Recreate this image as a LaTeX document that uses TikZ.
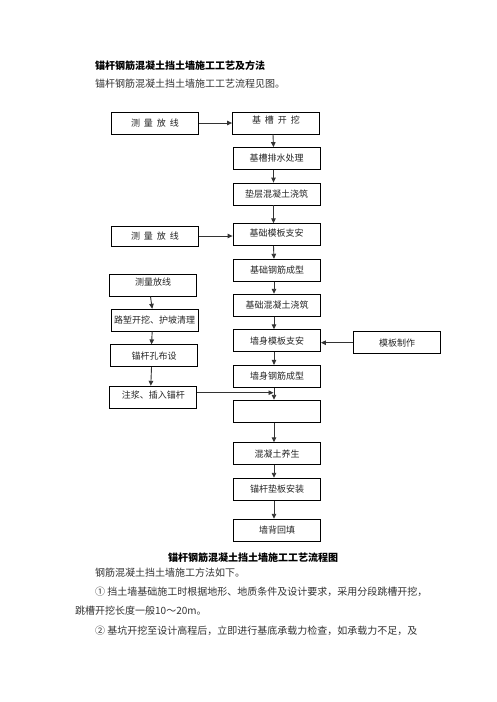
\documentclass[tikz,border=0pt]{standalone}
\usepackage{fontspec}
\setmainfont{Noto Sans CJK SC}
\usetikzlibrary{arrows.meta}

\tikzset{
  proc/.style={draw,line width=0.8pt,minimum width=87pt,minimum height=22pt,inner sep=0pt,
    text=black!85,font=\fontsize{9pt}{10pt}\selectfont},
  lift/.style={text depth=#1},
  flow/.style={-{Triangle[length=5pt,width=4.5pt]},line width=0.9pt,draw=black!80},
  body/.style={anchor=west,inner sep=0pt,text=black!80,font=\fontsize{10pt}{12pt}\selectfont}
}

\begin{document}
\begin{tikzpicture}[x=1pt,y=-1pt]
  \useasboundingbox (0,0) rectangle (496,702);
  \fill[white] (0,0) rectangle (496,702);

  % heading and intro
  \node[body,text=black,font=\fontsize{10pt}{12pt}\selectfont\bfseries] (head) at (95,66) {锚杆钢筋混凝土挡土墙施工工艺及方法};
  \node[body] (intro) at (95,84) {锚杆钢筋混凝土挡土墙施工工艺流程见图。};

  % main column
  \node[proc,lift=7pt] (k1) at (276,123) {基\hspace{4pt}槽\hspace{4pt}开\hspace{4pt}挖};
  \node[proc] (k2) at (276.5,158.5) {基槽排水处理};
  \node[proc] (k3) at (276.5,194) {垫层混凝土浇筑};
  \node[proc,lift=4pt] (k4) at (276.5,234.7) {基础模板支安};
  \node[proc] (k5) at (277,270.2) {基础钢筋成型};
  \node[proc] (k6) at (277,305.2) {基础混凝土浇筑};
  \node[proc] (k7) at (277,340.7) {墙身模板支安};
  \node[proc] (k8) at (277,376.3) {墙身钢筋成型};
  \node[proc] (k9) at (277,411.2) {};
  \node[proc] (k10) at (277,453.7) {混凝土养生};
  \node[proc] (k11) at (277,489.2) {锚杆垫板安装};
  \node[proc] (k12) at (277,530.2) {墙背回填};

  % side boxes
  \node[proc] (ma) at (155,123) {测\hspace{4pt}量\hspace{4pt}放\hspace{4pt}线};
  \node[proc,minimum height=20pt] (mb) at (155,236) {测\hspace{4pt}量\hspace{4pt}放\hspace{4pt}线};
  \node[proc] (mk) at (397,342.7) {模板制作};
  \node[proc,lift=7pt] (s1) at (153,285.2) {测量放线};
  \node[proc] (s2) at (154.7,320.2) {路堑开挖、护坡清理};
  \node[proc] (s3) at (154,355.8) {锚杆孔布设};
  \node[proc,lift=6pt] (s4) at (153.3,397.2) {注浆、插入锚杆};
  \coordinate (jn) at (273.5,392.7);

  % connectors
  \foreach \a/\b in {k1/k2,k2/k3,k3/k4,k4/k5,k5/k6,k6/k7,k7/k8,k8/k9,k9/k10,k10/k11,k11/k12}
    \draw[flow] ([xshift=-3pt]\a.south) -- ([xshift=-3pt]\b.north);
  \foreach \a/\b in {s1/s2,s2/s3,s3/s4}
    \draw[flow] ([xshift=-2.5pt]\a.south) -- ([xshift=-2.5pt]\b.north);
  \draw[flow] (ma.east) -- (k1.west |- ma.east);
  \draw[flow] (mb.east) -- (k4.west |- mb.east);
  \draw[flow] (mk.west) -- (k7.east |- mk.west);
  \draw[flow] (s4.east |- jn) -- (jn);

  % caption and text below
  \node[inner sep=0pt,font=\fontsize{10pt}{12pt}\selectfont\bfseries] (cap) at (253,557.3) {锚杆钢筋混凝土挡土墙施工工艺流程图};
  \node[body] (p0) at (95,572.3) {钢筋混凝土挡土墙施工方法如下。};
  \node[body] (p1) at (95,591.7) {① 挡土墙基础施工时根据地形、地质条件及设计要求，采用分段跳槽开挖，};
  \node[body] (p2) at (75,610.7) {跳槽开挖长度一般10～20m。};
  \node[body] (p3) at (95,630.7) {② 基坑开挖至设计高程后，立即进行基底承载力检查，如承载力不足，及};
\end{tikzpicture}
\end{document}
